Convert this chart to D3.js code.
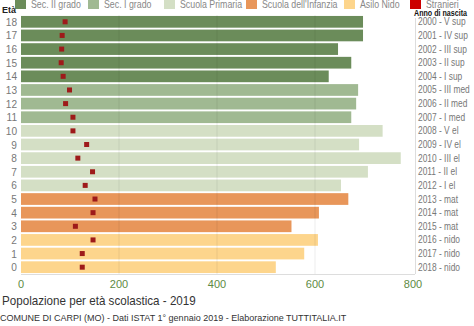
<!DOCTYPE html>
<html>
<head>
<meta charset="utf-8">
<script src="https://cdn.jsdelivr.net/npm/d3@7"></script>
<style>
  body { margin: 0; background: #fff; }
  svg { display: block; font-family: "Liberation Sans", Arial, sans-serif; }
</style>
</head>
<body>
<div id="chart"></div>
<script>
// population by school age, Carpi 2019
var ages = [18, 17, 16, 15, 14, 13, 12, 11, 10, 9, 8, 7, 6, 5, 4, 3, 2, 1, 0]
var totals = [698, 698, 647, 674, 628, 688, 684, 674, 738, 690, 775, 708, 653, 668, 608, 552, 606, 578, 520]
var stranieri = [90, 84, 83, 82, 86, 99, 91, 106, 106, 134, 116, 146, 131, 151, 147, 111, 147, 125, 125]
var birthLabels = ["2000 - V sup", "2001 - IV sup", "2002 - III sup", "2003 - II sup", "2004 - I sup",
  "2005 - III med", "2006 - II med", "2007 - I med", "2008 - V el", "2009 - IV el", "2010 - III el",
  "2011 - II el", "2012 - I el", "2013 - mat", "2014 - mat", "2015 - mat", "2016 - nido",
  "2017 - nido", "2018 - nido"]
var xTicks = [0, 200, 400, 600, 800]

var legendNames = ["Sec. II grado", "Sec. I grado", "Scuola Primaria", "Scuola dell'Infanzia", "Asilo Nido", "Stranieri"]
var legendColors = ["#6b8c5a", "#a0b992", "#d4dfc5", "#e8965a", "#fdd58c", "#cc0000"]
var legendX = [15, 88, 164, 246, 344, 410]

function schoolColor(age) {
  if (age >= 14) return legendColors[0]
  if (age >= 11) return legendColors[1]
  if (age >= 6) return legendColors[2]
  if (age >= 3) return legendColors[3]
  return legendColors[4]
}

// narrow text: draw at (x, y) squeezed horizontally by k
function squeeze(x, y, k) {
  return "translate(" + x + "," + y + ") scale(" + k + ",1)"
}

var width = 474, height = 326

var svg = d3.select("#chart").append("svg")
  .attr("width", width)
  .attr("height", height)

var x = d3.scaleLinear().domain([0, 800]).range([21, 413])
var y = d3.scaleBand().domain(ages).range([15, 274]).paddingInner(0.14).paddingOuter(0.07)

// legend (runs off the top edge a little)
var leg = svg.append("g")
legendNames.forEach(function(name, i) {
  leg.append("rect")
    .attr("x", legendX[i]).attr("y", -1)
    .attr("width", 11).attr("height", 10)
    .attr("fill", legendColors[i])
  leg.append("text")
    .attr("transform", squeeze(legendX[i] + 16, 7.5, 0.8))
    .attr("font-size", 11).attr("fill", "#888")
    .text(name)
})

// bars
svg.selectAll("rect.bar")
  .data(ages)
  .enter().append("rect")
    .attr("class", "bar")
    .attr("x", x(0))
    .attr("y", function(d) { return y(d) })
    .attr("width", function(d, i) { return x(totals[i]) - x(0) })
    .attr("height", y.bandwidth())
    .attr("fill", function(d) { return schoolColor(d) })

// vertical grid lines, drawn over the bars
svg.selectAll("line.grid")
  .data(xTicks.slice(1, 4))
  .enter().append("line")
    .attr("x1", function(d) { return x(d) }).attr("x2", function(d) { return x(d) })
    .attr("y1", 15).attr("y2", 274)
    .attr("stroke", "rgba(0,0,0,0.07)")

// bottom axis line and right border
svg.append("line")
  .attr("x1", x(0)).attr("x2", 415).attr("y1", 274.5).attr("y2", 274.5)
  .attr("stroke", "#ddd")
svg.append("line")
  .attr("x1", 415.5).attr("x2", 415.5).attr("y1", 18).attr("y2", 274)
  .attr("stroke", "#ddd")

// foreign residents markers
svg.selectAll("rect.str")
  .data(ages)
  .enter().append("rect")
    .attr("class", "str")
    .attr("x", function(d, i) { return x(stranieri[i]) - 2.5 })
    .attr("y", function(d) { return y(d) + y.bandwidth() / 2 - 2.5 })
    .attr("width", 5).attr("height", 5)
    .attr("fill", "#9e1a1a")

// left age labels
svg.append("text")
  .attr("x", 2).attr("y", 13)
  .attr("font-size", 9).attr("font-weight", "bold").attr("fill", "#222")
  .text("Età")
svg.selectAll("text.age")
  .data(ages)
  .enter().append("text")
    .attr("class", "age")
    .attr("transform", function(d) { return squeeze(17, y(d) + y.bandwidth() / 2 + 4, 0.92) })
    .attr("text-anchor", "end")
    .attr("font-size", 11).attr("fill", "#777")
    .text(function(d) { return d })

// right labels: birth year and class
svg.append("text")
  .attr("transform", squeeze(414, 16, 0.84))
  .attr("font-size", 8.5).attr("font-weight", "bold").attr("fill", "#111")
  .text("Anno di nascita")
svg.selectAll("text.birth")
  .data(ages)
  .enter().append("text")
    .attr("class", "birth")
    .attr("transform", function(d) { return squeeze(418, y(d) + y.bandwidth() / 2 + 3.5, 0.84) })
    .attr("font-size", 10).attr("fill", "#777")
    .text(function(d, i) { return birthLabels[i] })

// x tick labels
svg.selectAll("text.tick")
  .data(xTicks)
  .enter().append("text")
    .attr("class", "tick")
    .attr("x", function(d) { return x(d) })
    .attr("y", 288)
    .attr("text-anchor", "middle")
    .attr("font-size", 11).attr("fill", "#5e8a44")
    .text(function(d) { return d })

// title and source
svg.append("text")
  .attr("transform", squeeze(2, 305, 0.93))
  .attr("font-size", 12.5).attr("fill", "#333")
  .text("Popolazione per età scolastica - 2019")
svg.append("text")
  .attr("x", 0).attr("y", 321)
  .attr("font-size", 9).attr("fill", "#333")
  .text("COMUNE DI CARPI (MO) - Dati ISTAT 1° gennaio 2019 - Elaborazione TUTTITALIA.IT")
</script>
</body>
</html>
